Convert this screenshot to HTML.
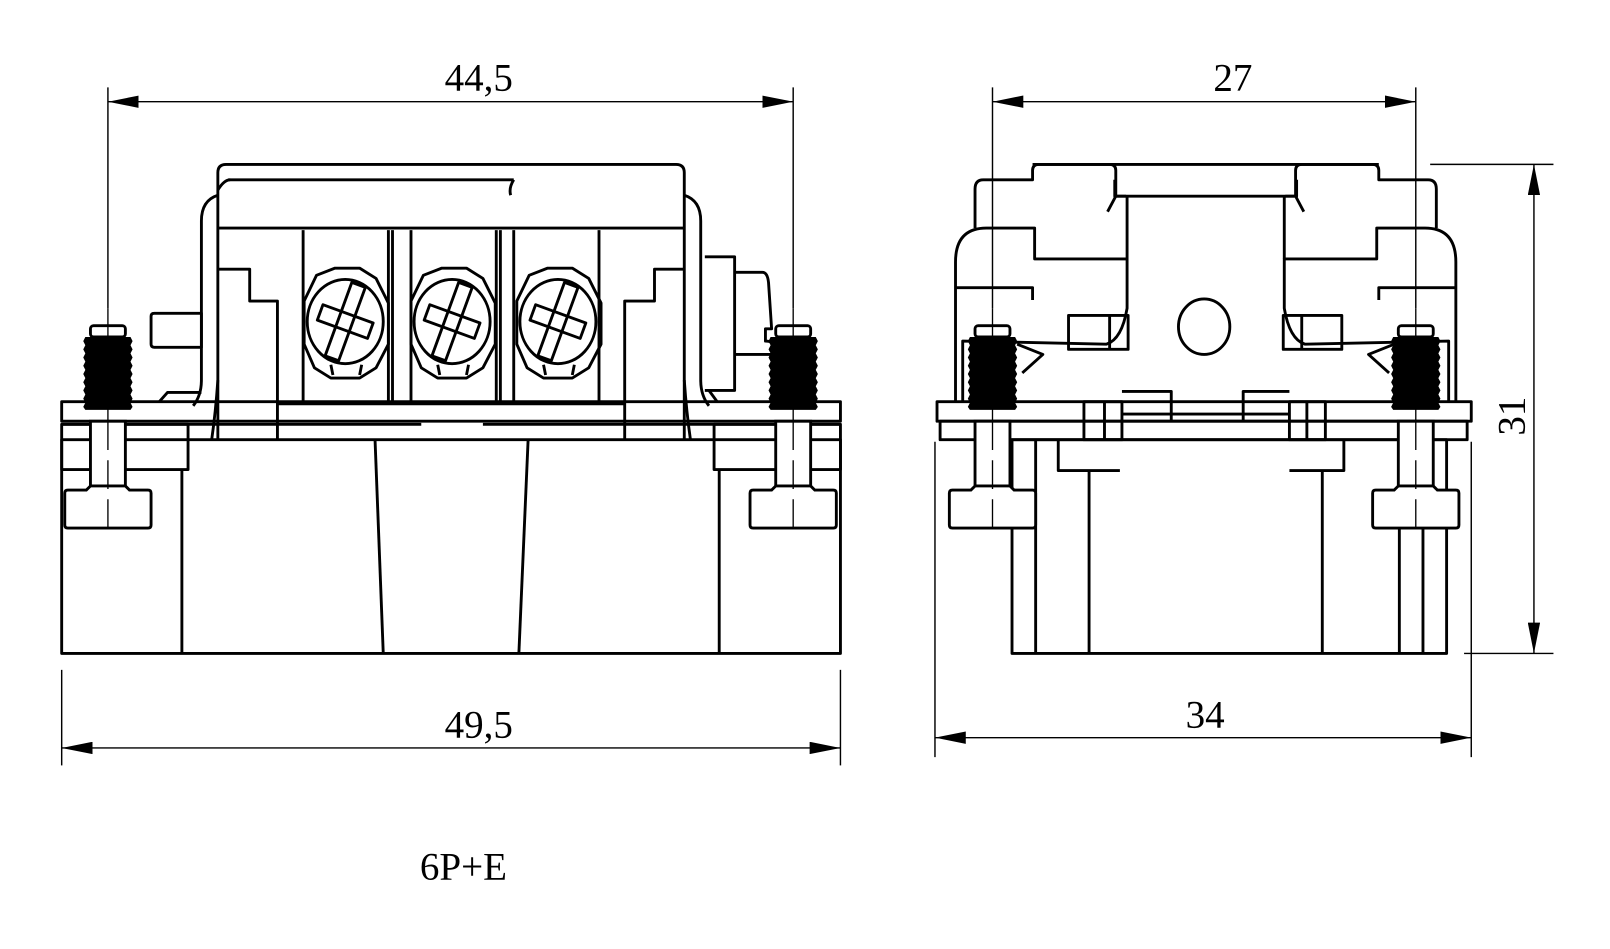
<!DOCTYPE html>
<html><head><meta charset="utf-8"><style>
html,body{margin:0;padding:0;background:#fff;}
svg{display:block;}
text{font-family:"Liberation Serif",serif;fill:#000;}
</style></head><body>
<svg width="1610" height="949" viewBox="0 0 1567 923.7" xmlns="http://www.w3.org/2000/svg">
<defs>
<marker id="a" viewBox="0 0 30 12" refX="30" refY="6" markerWidth="30" markerHeight="12" markerUnits="userSpaceOnUse" orient="auto-start-reverse"><path d="M0,0 L30,6 L0,12 Z" fill="#000"/></marker>
<g id="stud">
 <rect x="-17" y="317" width="34" height="11" rx="3" fill="#fff" stroke="#000" stroke-width="2.8"/>
 <path d="M-22,328 h44 l2,4 -2,4 2,4 -2,4 2,4 -2,4 2,4 -2,4 2,4 -2,4 2,4 -2,4 2,4 -2,4 2,4 -2,4 2,4 -2,3 h-44 l-2,-3 2,-4 -2,-4 2,-4 -2,-4 2,-4 -2,-4 2,-4 -2,-4 2,-4 -2,-4 2,-4 -2,-4 2,-4 -2,-4 2,-4 -2,-4 2,-4z" fill="#000"/>
 <rect x="-17" y="410" width="34" height="63" fill="#fff" stroke="#000" stroke-width="2.8"/>
 <path d="M-17,473 l-4,4 h-18 q-3,0 -3,3 v31 q0,3 3,3 h78 q3,0 3,-3 v-31 q0,-3 -3,-3 h-18 l-4,-4z" fill="#fff" stroke="#000" stroke-width="2.8"/>
 <line x1="0" y1="300" x2="0" y2="410" stroke="#000" stroke-width="1.3"/>
 <line x1="0" y1="410" x2="0" y2="514" stroke="#000" stroke-width="1.3" stroke-dasharray="28,10"/>
</g>
<g id="screw" fill="none" stroke="#000" stroke-width="2.8">
 <path d="M-28,-45 L-10,-52 L14,-52 L30,-42 L42,-18 L42,22 L30,45 L14,55 L-14,55 L-30,45 L-40,22 L-40,-20 Z"/>
 <ellipse cx="0" cy="0" rx="37" ry="41"/>
 <path d="M-12,52 L-14,42 M14,52 L16,42"/>
 <g transform="rotate(20)"><rect x="-7" y="-38" width="14" height="76"/></g>
 <g transform="rotate(20)"><rect x="-26" y="-8" width="52" height="16"/></g>
</g>
</defs>
<g fill="none" stroke="#000" stroke-width="2.8" stroke-linejoin="round">
<!-- LEFT VIEW -->
<rect x="60" y="428" width="758" height="208"/>
<rect x="60" y="391" width="758" height="19"/>
<path d="M60,413 H410 M470,413 H818"/>
<rect x="60" y="413" width="123" height="44"/>
<rect x="695" y="413" width="123" height="44"/>
<line x1="177" y1="457" x2="177" y2="636"/>
<line x1="700" y1="457" x2="700" y2="636"/>
<line x1="365" y1="428" x2="373" y2="636"/>
<line x1="514" y1="428" x2="505" y2="636"/>
<path d="M212,428 V168 q0,-8 8,-8 H658 q8,0 8,8 V428"/>
<path d="M222,175 H500 M500,175 q-5,8 -3,15"/>
<path d="M212,185 q6,-10 12,-10"/>
<line x1="212" y1="222" x2="666" y2="222"/>
<path d="M212,262 H243 V293 H270 V428 M666,262 H637 V293 H608 V428"/>
<line x1="270" y1="393" x2="608" y2="393"/>
<path d="M295,224 V393 M378,224 V393 M382,224 V393 M400,224 V393 M483,224 V393 M487,224 V393 M500,224 V393 M583,224 V393"/>
<path d="M212,190 q-16,5 -16,25 V370 q0,15 -8,25 M212,370 q-2,30 -6,58"/>
<path d="M666,190 q16,5 16,25 V370 q0,15 8,25 M666,370 q2,30 6,58"/>
<path d="M147,308 q0,-3 3,-3 H196 V338 H150 q-3,0 -3,-3z"/>
<path d="M155,391 l8,-9 H196"/>
<path d="M686,250 H715 V380 H686 M715,265 H742 q5,0 6,10 l3,45 H745 v12 q8,0 8,6 V345 H715"/>
<path d="M690,380 l8,11"/>
<use href="#screw" x="336" y="313"/>
<use href="#screw" x="440" y="313"/>
<use href="#screw" x="543" y="313"/>
<!-- RIGHT VIEW -->
<rect x="985" y="428" width="423" height="208"/>
<rect x="912" y="391" width="520" height="19"/>
<rect x="915" y="410" width="513" height="18"/>
<path d="M1008,428 V636 M1060,458 V636 M1287,458 V636 M1362,514 V636 M1385,428 V636"/>
<path d="M1030,428 V458 H1090 M1255,458 H1308 V428"/>
<path d="M1055,391 V428 H1092 V391 Z M1075,391 V428 M1255,391 V428 H1290 V391 Z M1272,391 V428"/>
<path d="M1092,381 H1140 V410 M1210,410 V381 H1255 M1092,403 H1255"/>
<path d="M930,391 V255 q0,-33 30,-33 H1007 V252 H1097 V300 q-5,30 -20,35 L937,332 V391"/>
<path d="M1097,191 V252 M1085,175 V191 H1096"/>
<path d="M949,222 V184 q0,-9 8,-9 H1005 V166 q0,-6 6,-6 H1080 q6,0 6,6 V191 l-8,15"/>
<path d="M1086,191 H1260"/>
<path d="M930,280 H1005 V292"/>
<g transform="translate(2347,0) scale(-1,1)">
<path d="M930,391 V255 q0,-33 30,-33 H1007 V252 H1097 V300 q-5,30 -20,35 L937,332 V391"/>
<path d="M1097,191 V252 M1085,175 V191 H1096"/>
<path d="M949,222 V184 q0,-9 8,-9 H1005 V166 q0,-6 6,-6 H1080 q6,0 6,6 V191 l-8,15"/>
<path d="M930,280 H1005 V292"/>
</g>
<line x1="1005" y1="160" x2="1342" y2="160"/>
<ellipse cx="1172" cy="318" rx="25" ry="27"/>
<rect x="1040" y="307" width="58" height="33"/>
<line x1="1080" y1="307" x2="1080" y2="340"/>
<rect x="1249" y="307" width="57" height="33"/>
<line x1="1267" y1="307" x2="1267" y2="340"/>
<path d="M990,335 l25,10 -20,18"/>
<path d="M1357,335 l-25,10 20,18"/>
</g>
<use href="#stud" x="105"/>
<use href="#stud" x="772"/>
<use href="#stud" x="966"/>
<use href="#stud" x="1378"/>
<g stroke="#000" stroke-width="1.4" fill="none">
<line x1="105" y1="85" x2="105" y2="300"/>
<line x1="772" y1="85" x2="772" y2="300"/>
<line x1="105" y1="99" x2="772" y2="99" marker-start="url(#a)" marker-end="url(#a)"/>
<line x1="60" y1="652" x2="60" y2="745"/>
<line x1="818" y1="652" x2="818" y2="745"/>
<line x1="60" y1="728" x2="818" y2="728" marker-start="url(#a)" marker-end="url(#a)"/>
<line x1="966" y1="85" x2="966" y2="300"/>
<line x1="1378" y1="85" x2="1378" y2="300"/>
<line x1="966" y1="99" x2="1378" y2="99" marker-start="url(#a)" marker-end="url(#a)"/>
<line x1="910" y1="430" x2="910" y2="737"/>
<line x1="1432" y1="430" x2="1432" y2="737"/>
<line x1="910" y1="718" x2="1432" y2="718" marker-start="url(#a)" marker-end="url(#a)"/>
<line x1="1392" y1="160" x2="1512" y2="160"/>
<line x1="1425" y1="636" x2="1512" y2="636"/>
<line x1="1493" y1="160" x2="1493" y2="636" marker-start="url(#a)" marker-end="url(#a)"/>
</g>
<g font-size="38">
<text x="466" y="88" text-anchor="middle">44,5</text>
<text x="466" y="718" text-anchor="middle">49,5</text>
<text x="1200" y="88" text-anchor="middle">27</text>
<text x="1173" y="708" text-anchor="middle">34</text>
<text transform="translate(1484,405) rotate(-90)" text-anchor="middle">31</text>
<text x="451" y="856" text-anchor="middle">6P+E</text>
</g>
</svg>
</body></html>
